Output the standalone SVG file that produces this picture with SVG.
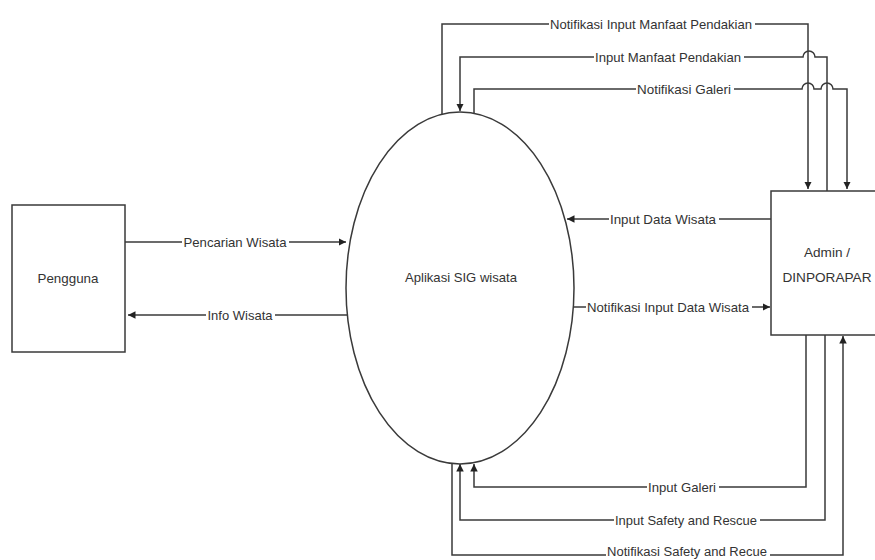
<svg xmlns="http://www.w3.org/2000/svg" width="875" height="560" viewBox="0 0 875 560">
<defs>
<style>
.node{fill:#fff;stroke:#3a3a3a;stroke-width:1.5}
.con{fill:none;stroke:#3a3a3a;stroke-width:1.5}
.lbl{font-family:"Liberation Sans Narrow","Liberation Sans",Arial,sans-serif;font-size:13px;fill:#333;text-anchor:middle}
.bg{fill:#fff}
</style>
<marker id="arr" viewBox="0 0 10 10" refX="10" refY="5" markerWidth="5" markerHeight="5" orient="auto" markerUnits="strokeWidth">
<path d="M0,0 L10,5 L0,10 z" fill="#222"/>
</marker>
</defs>
<rect width="875" height="560" fill="#fff"/>
<g id="connectors">
<path class="con" d="M442,114 V24 H808 V189" marker-end="url(#arr)"/>
<path class="con" d="M827,191 V57 H815 A6,6 0 0 0 803,57 H460 V111" marker-end="url(#arr)"/>
<path class="con" d="M474,113 V89 H802 A6,6 0 0 1 814,89 H821 A6,6 0 0 1 833,89 H847 V189" marker-end="url(#arr)"/>
<path class="con" d="M125,242 H346" marker-end="url(#arr)"/>
<path class="con" d="M348,315 H128" marker-end="url(#arr)"/>
<path class="con" d="M771,219 H567" marker-end="url(#arr)"/>
<path class="con" d="M573,307 H770" marker-end="url(#arr)"/>
<path class="con" d="M806,335 V487 H474 V464" marker-end="url(#arr)"/>
<path class="con" d="M825,335 V520 H460 V464" marker-end="url(#arr)"/>
<path class="con" d="M452,463 V555 H843 V336" marker-end="url(#arr)"/>
<g id="labels">
<rect class="bg" x="549" y="17" width="206" height="14"/>
<text class="lbl" x="651" y="29" textLength="202" lengthAdjust="spacingAndGlyphs">Notifikasi Input Manfaat Pendakian</text>
<rect class="bg" x="594" y="50" width="150" height="14"/>
<text class="lbl" x="668" y="62" textLength="146" lengthAdjust="spacingAndGlyphs">Input Manfaat Pendakian</text>
<rect class="bg" x="636" y="82" width="98" height="14"/>
<text class="lbl" x="684" y="94" textLength="94" lengthAdjust="spacingAndGlyphs">Notifikasi Galeri</text>
<rect class="bg" x="182" y="235" width="107" height="14"/>
<text class="lbl" x="235" y="247" textLength="103" lengthAdjust="spacingAndGlyphs">Pencarian Wisata</text>
<rect class="bg" x="206" y="308" width="69" height="14"/>
<text class="lbl" x="240" y="320" textLength="65" lengthAdjust="spacingAndGlyphs">Info Wisata</text>
<rect class="bg" x="609" y="212" width="110" height="14"/>
<text class="lbl" x="663" y="224" textLength="106" lengthAdjust="spacingAndGlyphs">Input Data Wisata</text>
<rect class="bg" x="586" y="300" width="166" height="14"/>
<text class="lbl" x="668" y="312" textLength="162" lengthAdjust="spacingAndGlyphs">Notifikasi Input Data Wisata</text>
<rect class="bg" x="647" y="480" width="72" height="14"/>
<text class="lbl" x="682" y="492" textLength="68" lengthAdjust="spacingAndGlyphs">Input Galeri</text>
<rect class="bg" x="614" y="513" width="146" height="14"/>
<text class="lbl" x="686" y="525" textLength="142" lengthAdjust="spacingAndGlyphs">Input Safety and Rescue</text>
<rect class="bg" x="606" y="548" width="164" height="12"/>
<text class="lbl" x="687" y="556" style="font-size:12px" textLength="160" lengthAdjust="spacingAndGlyphs">Notifikasi Safety and Recue</text>
</g>
</g>
<g id="pengguna">
<rect class="node" x="12" y="205" width="113" height="147"/>
<text class="lbl" x="68" y="283" textLength="61" lengthAdjust="spacingAndGlyphs">Pengguna</text>
</g>
<g id="aplikasi">
<ellipse class="node" cx="460" cy="288" rx="114" ry="176"/>
<text class="lbl" x="461" y="282" textLength="112" lengthAdjust="spacingAndGlyphs">Aplikasi SIG wisata</text>
</g>
<g id="admin">
<rect class="node" x="771" y="191" width="112" height="144"/>
<text class="lbl" x="827" y="257" textLength="46" lengthAdjust="spacingAndGlyphs">Admin /</text>
<text class="lbl" x="827" y="282" textLength="89" lengthAdjust="spacingAndGlyphs">DINPORAPAR</text>
</g>
</svg>
